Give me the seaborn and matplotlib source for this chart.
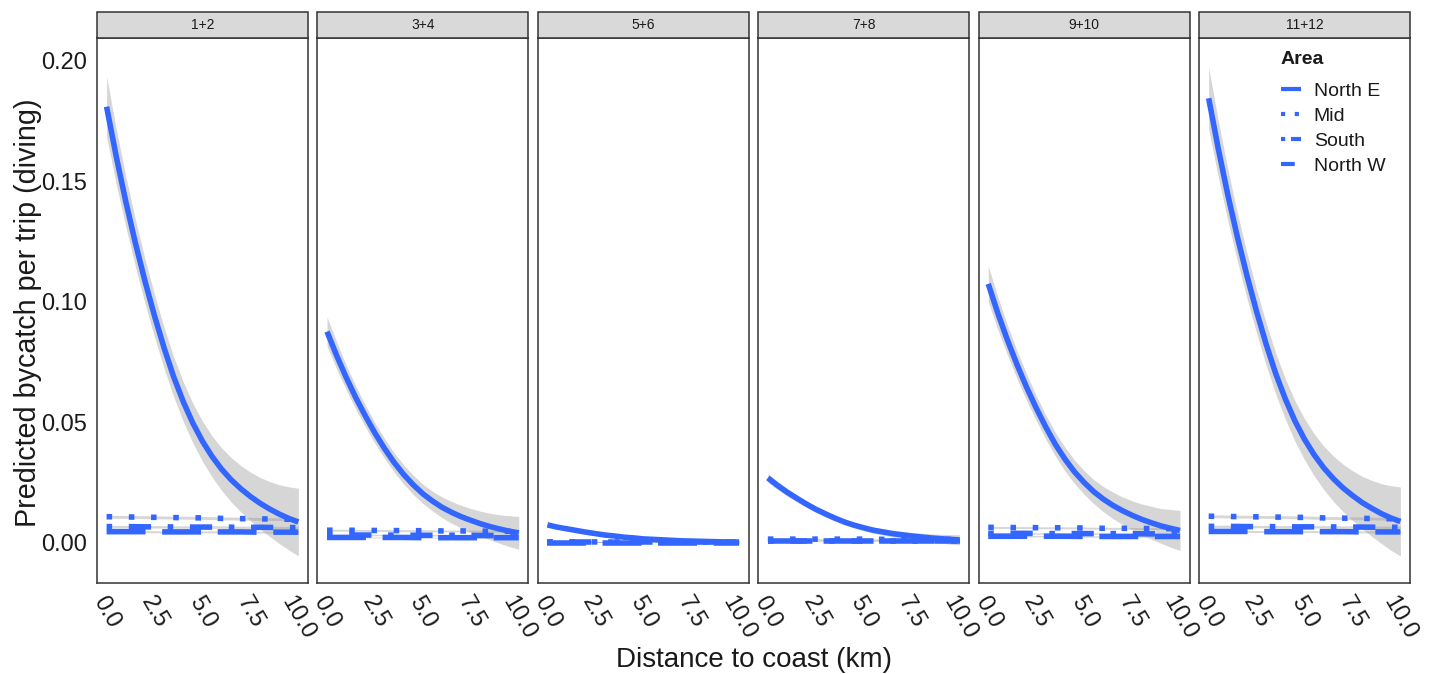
import matplotlib
matplotlib.use("Agg")
import matplotlib.pyplot as plt
from matplotlib.patches import Rectangle
import seaborn as sns
import pandas as pd

# ---------------- data ----------------
panels = ["1+2", "3+4", "5+6", "7+8", "9+10", "11+12"]
areas = ["North E", "Mid", "South", "North W"]

dist_fine = [0.0, 0.5, 1.0, 1.5, 2.0, 2.5, 3.0, 3.5, 4.0, 4.5, 5.0,
             5.5, 6.0, 6.5, 7.0, 7.5, 8.0, 8.5, 9.0, 9.5, 10.0]
dist_coarse = [0, 1, 2, 3, 4, 5, 6, 7, 8, 9, 10]

# North E predictions per panel (fine grid)
ne_12 = [0.1810, 0.1605, 0.1417, 0.1245, 0.1087, 0.0942, 0.0809, 0.0689, 0.0586, 0.0497, 0.0422,
         0.0359, 0.0306, 0.0262, 0.0225, 0.0193, 0.0165, 0.0141, 0.0120, 0.0102, 0.0087]
ne_34 = [0.0877, 0.0778, 0.0687, 0.0603, 0.0527, 0.0456, 0.0392, 0.0334, 0.0284, 0.0241, 0.0204,
         0.0174, 0.0148, 0.0127, 0.0109, 0.0094, 0.0080, 0.0068, 0.0058, 0.0049, 0.0042]
ne_56 = [0.0075, 0.0066, 0.0059, 0.0052, 0.0045, 0.0039, 0.0033, 0.0029, 0.0024, 0.0021, 0.0017,
         0.0015, 0.0013, 0.0011, 0.0009, 0.0008, 0.0007, 0.0006, 0.0005, 0.0004, 0.0004]
ne_78 = [0.0270, 0.0239, 0.0211, 0.0186, 0.0162, 0.0140, 0.0121, 0.0103, 0.0087, 0.0074, 0.0063,
         0.0053, 0.0046, 0.0039, 0.0034, 0.0029, 0.0025, 0.0021, 0.0018, 0.0015, 0.0013]
ne_910 = [0.1075, 0.0953, 0.0842, 0.0740, 0.0646, 0.0560, 0.0481, 0.0409, 0.0348, 0.0295, 0.0251,
          0.0213, 0.0182, 0.0156, 0.0134, 0.0115, 0.0098, 0.0084, 0.0071, 0.0061, 0.0052]
ne_1112 = [0.1845, 0.1636, 0.1444, 0.1269, 0.1108, 0.0960, 0.0824, 0.0702, 0.0597, 0.0506, 0.0430,
           0.0366, 0.0312, 0.0267, 0.0229, 0.0197, 0.0168, 0.0144, 0.0122, 0.0104, 0.0089]

# North E confidence half-widths (fine grid)
ne_ci_12 = [0.0125, 0.0115, 0.0105, 0.0098, 0.0092, 0.0088, 0.0085, 0.0083, 0.0082, 0.0082, 0.0083,
            0.0085, 0.0088, 0.0092, 0.0096, 0.0101, 0.0107, 0.0114, 0.0122, 0.0131, 0.0140]
ne_ci_34 = [0.0061, 0.0056, 0.0051, 0.0048, 0.0045, 0.0043, 0.0041, 0.0040, 0.0040, 0.0040, 0.0040,
            0.0041, 0.0043, 0.0045, 0.0047, 0.0049, 0.0052, 0.0055, 0.0059, 0.0064, 0.0068]
ne_ci_56 = [0.0005, 0.0005, 0.0004, 0.0004, 0.0004, 0.0004, 0.0003, 0.0003, 0.0003, 0.0003, 0.0003,
            0.0003, 0.0004, 0.0004, 0.0004, 0.0004, 0.0004, 0.0005, 0.0005, 0.0005, 0.0006]
ne_ci_78 = [0.0019, 0.0017, 0.0016, 0.0015, 0.0014, 0.0013, 0.0013, 0.0012, 0.0012, 0.0012, 0.0012,
            0.0013, 0.0013, 0.0014, 0.0014, 0.0015, 0.0016, 0.0017, 0.0018, 0.0020, 0.0021]
ne_ci_910 = [0.0074, 0.0068, 0.0062, 0.0058, 0.0055, 0.0052, 0.0050, 0.0049, 0.0049, 0.0049, 0.0049,
             0.0050, 0.0052, 0.0055, 0.0057, 0.0060, 0.0064, 0.0068, 0.0072, 0.0078, 0.0083]
ne_ci_1112 = [0.0128, 0.0117, 0.0107, 0.0100, 0.0094, 0.0090, 0.0087, 0.0085, 0.0084, 0.0084, 0.0085,
              0.0087, 0.0090, 0.0094, 0.0098, 0.0103, 0.0109, 0.0116, 0.0124, 0.0134, 0.0143]

# Mid / South / North W predictions per panel (coarse grid)
mid_12 = [0.0109, 0.0108, 0.0107, 0.0106, 0.0105, 0.0104, 0.0102, 0.0101, 0.0100, 0.0099, 0.0098]
south_12 = [0.0068, 0.0068, 0.0067, 0.0067, 0.0066, 0.0066, 0.0066, 0.0065, 0.0065, 0.0064, 0.0064]
nw_12 = [0.0047, 0.0047, 0.0047, 0.0046, 0.0046, 0.0046, 0.0046, 0.0046, 0.0045, 0.0045, 0.0045]

mid_34 = [0.0053, 0.0053, 0.0052, 0.0052, 0.0051, 0.0051, 0.0050, 0.0050, 0.0049, 0.0049, 0.0048]
south_34 = [0.0033, 0.0033, 0.0033, 0.0033, 0.0032, 0.0032, 0.0032, 0.0032, 0.0031, 0.0031, 0.0031]
nw_34 = [0.0023, 0.0023, 0.0023, 0.0023, 0.0023, 0.0022, 0.0022, 0.0022, 0.0022, 0.0022, 0.0022]

mid_56 = [0.00045, 0.00045, 0.00044, 0.00044, 0.00043, 0.00043, 0.00042, 0.00042, 0.00041, 0.00041, 0.0004]
south_56 = [0.0003, 0.0003, 0.0003, 0.0003, 0.0003, 0.0003, 0.0003, 0.0003, 0.0003, 0.0003, 0.0003]
nw_56 = [0.0002, 0.0002, 0.0002, 0.0002, 0.0002, 0.0002, 0.0002, 0.0002, 0.0002, 0.0002, 0.0002]

mid_78 = [0.0016, 0.0016, 0.0016, 0.0016, 0.0016, 0.0016, 0.0015, 0.0015, 0.0015, 0.0015, 0.0015]
south_78 = [0.0010, 0.0010, 0.0010, 0.0010, 0.0010, 0.0010, 0.0010, 0.0010, 0.0010, 0.0010, 0.0010]
nw_78 = [0.0007, 0.0007, 0.0007, 0.0007, 0.0007, 0.0007, 0.0007, 0.0007, 0.0007, 0.0007, 0.0007]

mid_910 = [0.0065, 0.0064, 0.0064, 0.0063, 0.0063, 0.0062, 0.0061, 0.0061, 0.0060, 0.0060, 0.0059]
south_910 = [0.0040, 0.0040, 0.0040, 0.0039, 0.0039, 0.0039, 0.0039, 0.0039, 0.0038, 0.0038, 0.0038]
nw_910 = [0.0028, 0.0028, 0.0028, 0.0028, 0.0028, 0.0027, 0.0027, 0.0027, 0.0027, 0.0027, 0.0027]

mid_1112 = [0.0111, 0.0110, 0.0109, 0.0108, 0.0107, 0.0106, 0.0104, 0.0103, 0.0102, 0.0101, 0.0100]
south_1112 = [0.0069, 0.0069, 0.0068, 0.0068, 0.0067, 0.0067, 0.0067, 0.0066, 0.0066, 0.0065, 0.0065]
nw_1112 = [0.0048, 0.0048, 0.0048, 0.0047, 0.0047, 0.0047, 0.0047, 0.0047, 0.0046, 0.0046, 0.0046]

# small confidence half-widths of the flat series (Mid, South, North W) per panel
flat_ci_12 = [0.0006, 0.0005, 0.0004]
flat_ci_34 = [0.0004, 0.0003, 0.0002]
flat_ci_56 = [0.0001, 0.0001, 0.0001]
flat_ci_78 = [0.0002, 0.0001, 0.0001]
flat_ci_910 = [0.0004, 0.0003, 0.0003]
flat_ci_1112 = [0.0006, 0.0005, 0.0004]

y_ticks = [0.00, 0.05, 0.10, 0.15, 0.20]
y_tick_labels = ["0.00", "0.05", "0.10", "0.15", "0.20"]
x_ticks = [0.0, 2.5, 5.0, 7.5, 10.0]
x_tick_labels = ["0.0", "2.5", "5.0", "7.5", "10.0"]

ne_by_panel = [ne_12, ne_34, ne_56, ne_78, ne_910, ne_1112]
ne_ci_by_panel = [ne_ci_12, ne_ci_34, ne_ci_56, ne_ci_78, ne_ci_910, ne_ci_1112]
flat_by_panel = [(mid_12, south_12, nw_12), (mid_34, south_34, nw_34), (mid_56, south_56, nw_56),
                 (mid_78, south_78, nw_78), (mid_910, south_910, nw_910), (mid_1112, south_1112, nw_1112)]
flat_ci_by_panel = [flat_ci_12, flat_ci_34, flat_ci_56, flat_ci_78, flat_ci_910, flat_ci_1112]

# ---------------- build tidy data ----------------
rows = []
for p, ne, ci, flats, fci in zip(panels, ne_by_panel, ne_ci_by_panel, flat_by_panel, flat_ci_by_panel):
    for d, v, h in zip(dist_fine, ne, ci):
        rows.append(dict(Period=p, Area="North E", dist=d, pred=v, lo=v - h, hi=v + h))
    for a, vals, h in zip(areas[1:], flats, fci):
        for d, v in zip(dist_coarse, vals):
            rows.append(dict(Period=p, Area=a, dist=d, pred=v, lo=v - h, hi=v + h))
df = pd.DataFrame(rows)

# ---------------- style ----------------
sns.set_style("white")
plt.rcParams["font.family"] = ["Liberation Sans", "DejaVu Sans"]

BLUE = "#3366FF"
DARK = "#333333"
TXT = "#1a1a1a"
dashes = {"North E": "", "Mid": (1, 3), "South": (1, 3, 4, 3), "North W": (7, 3)}
legend_dashes = {"North E": None, "Mid": (1, 2.3), "South": (1, 1.4, 2.4, 5), "North W": (3.3, 6)}

W, H = 1434, 674
fig, axes = plt.subplots(1, 6, figsize=(W / 100, H / 100), dpi=100, sharey=True)
fig.subplots_adjust(left=97 / W, right=1410 / W, bottom=1 - 583 / H, top=1 - 38 / H, wspace=0.045)

for i, (ax, p) in enumerate(zip(axes, panels)):
    sub = df[df.Period == p]
    for a in areas:
        s = sub[sub.Area == a]
        ax.fill_between(s.dist, s.lo, s.hi, color="#999999", alpha=0.4, linewidth=0, zorder=1)
    sns.lineplot(data=sub, x="dist", y="pred", style="Area", style_order=areas,
                 dashes=dashes, color=BLUE, linewidth=4.0, ax=ax,
                 legend=(i == len(panels) - 1), estimator=None, sort=True, zorder=3)
    for ln in ax.get_lines():
        ln.set_solid_capstyle("butt")
        ln.set_dash_capstyle("butt")
        ln.set_solid_joinstyle("round")

    ax.set_xlim(-0.5, 10.5)
    ax.set_ylim(-0.0166, 0.2095)
    ax.set_xticks(x_ticks)
    ax.set_xticklabels(x_tick_labels, rotation=-60, ha="center", va="top", fontsize=17, color=TXT)
    ax.set_yticks(y_ticks)
    ax.set_yticklabels(y_tick_labels, fontsize=17, color=TXT)
    ax.set_xlabel("")
    ax.set_ylabel("")
    ax.tick_params(axis="both", direction="out", length=4, width=1, color=DARK, pad=3)
    if i > 0:
        ax.tick_params(axis="y", length=0, labelleft=False)
    for sp in ax.spines.values():
        sp.set_color(DARK)
        sp.set_linewidth(1.1)
        sp.set_visible(True)
    # facet strip
    strip_h = 26 / 545
    ax.add_patch(Rectangle((0, 1), 1, strip_h, transform=ax.transAxes, clip_on=False,
                           facecolor="#d9d9d9", edgecolor=DARK, linewidth=1.1, zorder=5))
    ax.text(0.5, 1 + strip_h / 2, p, transform=ax.transAxes, ha="center", va="center",
            fontsize=10, color=TXT, zorder=6)

# legend in last panel
last = axes[-1]
handles, labels = last.get_legend_handles_labels()
hl = [(h, l) for h, l in zip(handles, labels) if l in areas]
if last.get_legend() is not None:
    last.get_legend().remove()
leg = last.legend([h for h, _ in hl], [l for _, l in hl], title="Area", loc="upper left",
                  bbox_to_anchor=(0.35, 0.99), frameon=False, fontsize=14,
                  title_fontproperties={"weight": "bold", "size": 14},
                  handlelength=1.05, handletextpad=0.65, labelspacing=0.38, borderaxespad=0,
                  alignment="left")
leg._legend_box.sep = 10
for t in leg.get_texts():
    t.set_color(TXT)
leg.get_title().set_color(TXT)
for h, (_, l) in zip(leg.get_lines(), hl):
    h.set_linewidth(3.0)
    if legend_dashes[l] is None:
        h.set_linestyle("-")
    else:
        h.set_dashes(legend_dashes[l])
    h.set_dash_capstyle("butt")
    h.set_solid_capstyle("butt")

fig.text((97 + 1410) / 2 / W, 1 - 660 / H, "Distance to coast (km)", ha="center", va="center",
         fontsize=20, color=TXT)
fig.text(28 / W, 1 - 313 / H, "Predicted bycatch per trip (diving)", ha="center", va="center",
         rotation=90, fontsize=20.7, color=TXT)

fig.savefig("out.png", dpi=100, facecolor="white")
